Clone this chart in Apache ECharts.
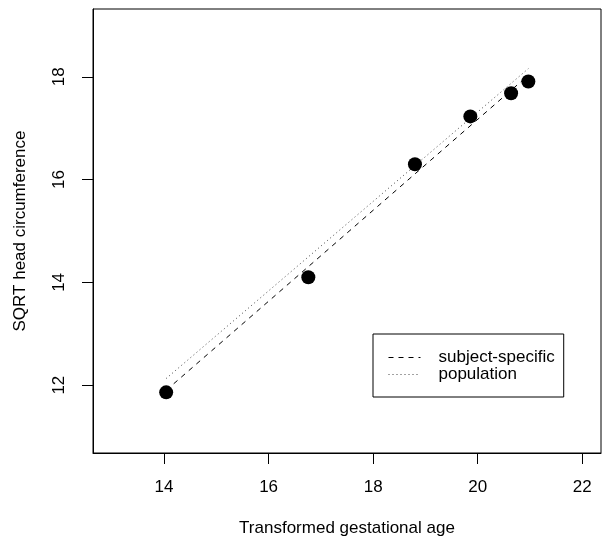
<!DOCTYPE html>
<html><head><meta charset="utf-8">
<script src="https://cdn.jsdelivr.net/npm/echarts@6/dist/echarts.min.js"></script>
<style>html,body{margin:0;padding:0;background:#fff}#c{width:605px;height:544px}</style>
</head><body><div id="c"></div>
<script>
const ageX = [14.04, 16.76, 18.80, 19.86, 20.64, 20.97];
const headY = [11.86, 14.10, 16.30, 17.23, 17.68, 17.91];
const subjectLineX = [14.04, 20.97];
const subjectLineY = [11.90, 18.03];
const populationLineX = [14.04, 20.97];
const populationLineY = [12.13, 18.16];
const xTicks = [14, 16, 18, 20, 22];
const yTicks = [12, 14, 16, 18];
const xRange = [12.64, 22.36];
const yRange = [10.68, 19.32];

const F = 'Liberation Sans, Arial, sans-serif';
const chart = echarts.init(document.getElementById('c'), null, {renderer: 'canvas'});
const pair = (xs, ys) => xs.map((x, i) => [x, ys[i]]);
chart.setOption({
  animation: false,
  backgroundColor: '#fff',
  grid: {left: 93, right: 4, top: 9, bottom: 91, show: true, borderColor: '#000', borderWidth: 1, backgroundColor: 'transparent'},
  xAxis: {
    type: 'value', min: xRange[0], max: xRange[1],
    name: 'Transformed gestational age', nameLocation: 'middle', nameGap: 67,
    nameTextStyle: {fontFamily: F, fontSize: 17, color: '#000'},
    axisLine: {show: true, lineStyle: {color: '#000', width: 1}},
    axisTick: {show: true, length: 11, lineStyle: {color: '#000'}, customValues: xTicks},
    axisLabel: {fontFamily: F, fontSize: 17, color: '#000', margin: 26, customValues: xTicks},
    splitLine: {show: false}
  },
  yAxis: {
    type: 'value', min: yRange[0], max: yRange[1],
    name: 'SQRT head circumference', nameLocation: 'middle', nameGap: 64, nameRotate: 90,
    nameTextStyle: {fontFamily: F, fontSize: 17, color: '#000'},
    axisLine: {show: true, lineStyle: {color: '#000', width: 1}},
    axisTick: {show: true, length: 11, lineStyle: {color: '#000'}, customValues: yTicks},
    axisLabel: {fontFamily: F, fontSize: 17, color: '#000', margin: 25, rotate: 90, customValues: yTicks},
    splitLine: {show: false}
  },
  legend: {
    left: 373, top: 334, orient: 'vertical',
    padding: [15, 9, 14, 15], itemGap: 0, itemWidth: 32, itemHeight: 14,
    borderColor: '#000', borderWidth: 1, borderRadius: 0,
    itemStyle: {color: 'rgba(0,0,0,0)', borderWidth: 0, opacity: 0},
    lineStyle: {width: 1},
    textStyle: {fontFamily: F, fontSize: 17, color: '#000', lineHeight: 16, padding: [0, 0, 0, 13]},
    data: ['subject-specific', 'population']
  },
  series: [
    {name: 'subject-specific', type: 'line', data: pair(subjectLineX, subjectLineY), symbol: 'none',
     color: '#000', lineStyle: {color: '#000', width: 1, type: [5, 5]}, z: 2},
    {name: 'population', type: 'line', data: pair(populationLineX, populationLineY), symbol: 'none',
     color: '#444', lineStyle: {color: '#444', width: 1, type: [1, 3]}, z: 2},
    {name: 'points', type: 'scatter', data: pair(ageX, headY), symbol: 'circle', symbolSize: 14,
     itemStyle: {color: '#000', opacity: 1}, z: 3}
  ]
});
</script></body></html>
